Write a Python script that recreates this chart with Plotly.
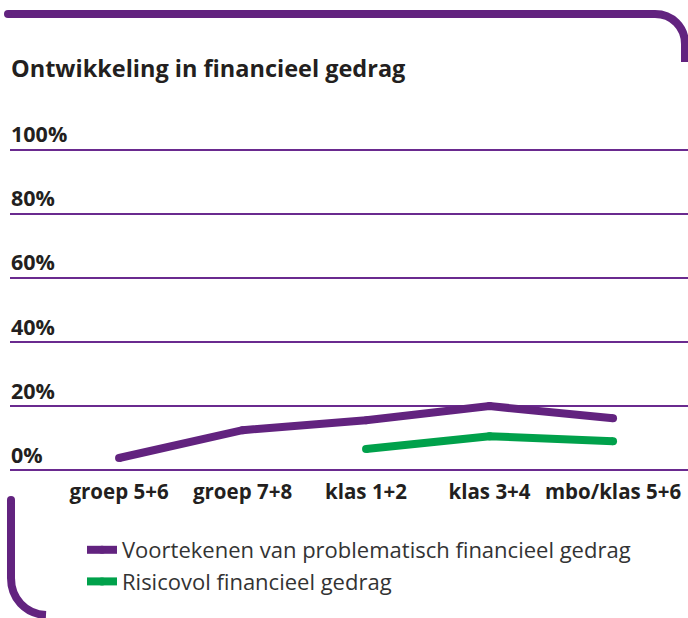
import plotly.graph_objects as go

categories = ["groep 5+6", "groep 7+8", "klas 1+2", "klas 3+4", "mbo/klas 5+6"]
voortekenen = [3.8, 12.5, 15.6, 20.0, 16.2]
risicovol = [None, None, 6.6, 10.6, 9.0]
series_names = ["Voortekenen van problematisch financieel gedrag", "Risicovol financieel gedrag"]
y_ticks = [0, 20, 40, 60, 80, 100]
y_tick_labels = ["0%", "20%", "40%", "60%", "80%", "100%"]

PURPLE = "#62237f"
GREEN = "#00a14b"
GRID = "#6a2a8f"
TEXT = "#231f20"

W, H = 688, 618
# y range [-1.5, 101.5] mapped so 0 -> 470px and 100 -> 150px (3.2 px/unit)
Y0, Y1 = -1.5, 101.5
L, R = 10, 0
T = round(150 - (Y1 - 100) * 3.2)
B = round(H - (470 + (0 - Y0) * 3.2))
PW, PH = W - L - R, H - T - B

def px(x):
    return (x - L) / PW

def py(y):
    return (H - B - y) / PH

fig = go.Figure()
fig.add_trace(go.Scatter(x=categories, y=voortekenen, name=series_names[0], mode="lines+markers",
                         line=dict(color=PURPLE, width=8), marker=dict(color=PURPLE, size=8),
                         hoverinfo="skip"))
fig.add_trace(go.Scatter(x=categories, y=risicovol, name=series_names[1], mode="lines+markers",
                         line=dict(color=GREEN, width=8), marker=dict(color=GREEN, size=8),
                         hoverinfo="skip"))

def P(x, y):
    return f"{px(x):.5f},{py(y):.5f}"

top_path = (f"M{P(8,14)} L{P(655,14)} C{P(672,14)} {P(685,27)} {P(685,44)} L{P(685,62)}")
bot_path = (f"M{P(11,500)} L{P(11,578)} C{P(11,598)} {P(25,614)} {P(46,615)}")
shapes = [
    dict(type="path", xref="paper", yref="paper", path=top_path, line=dict(color=PURPLE, width=8)),
    dict(type="path", xref="paper", yref="paper", path=bot_path, line=dict(color=PURPLE, width=8)),
    dict(type="circle", xref="paper", yref="paper", x0=px(4), x1=px(12), y0=py(10), y1=py(18),
         fillcolor=PURPLE, line=dict(width=0)),
    dict(type="circle", xref="paper", yref="paper", x0=px(7), x1=px(15), y0=py(496), y1=py(504),
         fillcolor=PURPLE, line=dict(width=0)),
]

fig.update_layout(
    width=W, height=H,
    margin=dict(l=L, r=R, t=T, b=B, autoexpand=False),
    paper_bgcolor="white", plot_bgcolor="white",
    annotations=[dict(text="<b>Ontwikkeling in financieel gedrag</b>", xref="paper", yref="paper",
                      x=px(9), xanchor="left", y=py(68), yanchor="middle", showarrow=False,
                      font=dict(family="Open Sans", size=23.5, color=TEXT))],
    xaxis=dict(type="category", range=[-0.883, 4.607], showgrid=False, zeroline=False,
               showline=False, ticks="", automargin=False,
               tickfont=dict(family="Open Sans", size=20.5, color=TEXT, weight=700),
               ticklabelstandoff=2, fixedrange=True),
    yaxis=dict(range=[Y0, Y1], tickvals=y_ticks, ticktext=y_tick_labels, showgrid=True,
               gridcolor=GRID, gridwidth=1.5, zeroline=False, showline=False, ticks="",
               automargin=False,
               ticklabelposition="inside top", ticklabeloverflow="allow", ticklabelstandoff=-2,
               tickfont=dict(family="Open Sans", size=21.5, color=TEXT, weight=700), fixedrange=True),
    legend=dict(x=px(82), xanchor="left", y=py(529), yanchor="top", bgcolor="rgba(0,0,0,0)",
                font=dict(family="Open Sans", size=22, color="#333333"), itemwidth=30),
    shapes=shapes,
    showlegend=True,
)

fig.write_html("out.html", config={"displayModeBar": False, "staticPlot": True},
               post_script="document.body.style.margin='0';document.body.style.padding='0';")
